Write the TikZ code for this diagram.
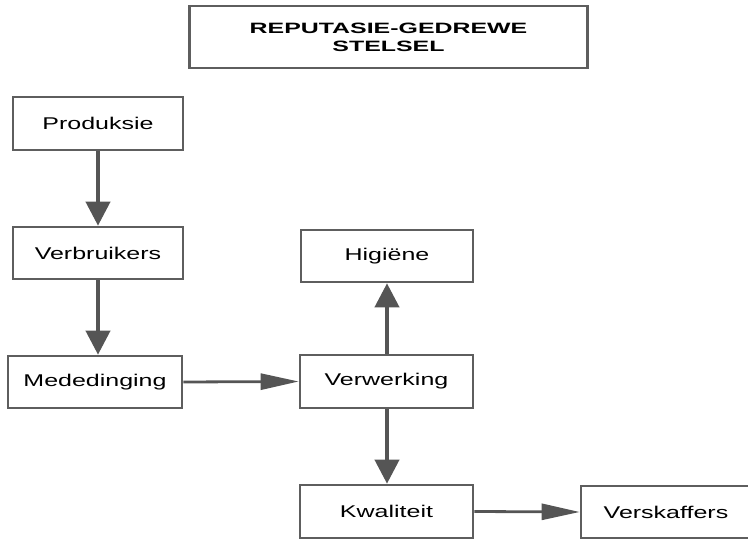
\documentclass[tikz,border=0pt]{standalone}
\usepackage{fontspec}
\setmainfont{Liberation Sans}
\usepackage{graphicx}
\usetikzlibrary{arrows.meta}
\definecolor{edge}{HTML}{5E5E5E}
\definecolor{link}{HTML}{555555}
\newcommand{\widetext}[2]{\scalebox{#1}[1]{#2}}
\begin{document}
\begin{tikzpicture}[x=1pt,y=-1pt,
  stagebox/.style={draw=edge, line width=2.6pt, fill=white, inner sep=0pt,
    font=\fontsize{17}{20}\selectfont},
  vlink/.style={draw=link, line width=4pt,
    -{Triangle[length=24pt,width=24pt]}},
  hlink/.style={draw=link, line width=2.8pt,
    -{Triangle[length=38pt,width=16pt]}}]
\useasboundingbox (0,0) rectangle (748,540);
% title
\node[draw=edge, line width=2.6pt, inner sep=0pt, minimum width=398pt, minimum height=62pt,
  align=center, font=\bfseries\fontsize{15}{18}\selectfont] (title) at (388.5,37)
  {\widetext{1.66}{REPUTASIE-GEDREWE}\\\widetext{1.66}{STELSEL}};
% stages
\node[stagebox, minimum width=170pt, minimum height=53pt] (prod) at (98,123.5) {\widetext{1.47}{Produksie}};
\node[stagebox, minimum width=170pt, minimum height=52pt] (verb) at (98,253) {\widetext{1.47}{Verbruikers}};
\node[stagebox, minimum width=174pt, minimum height=52pt] (med) at (95,382) {\widetext{1.47}{Mededinging}};
\node[stagebox, minimum width=172pt, minimum height=52pt] (hig) at (387,256) {\widetext{1.47}{Higiëne}};
\node[stagebox, minimum width=173pt, minimum height=53pt] (verw) at (386.5,381.5) {\widetext{1.47}{Verwerking}};
\node[stagebox, minimum width=173pt, minimum height=53pt] (kwal) at (386.5,511.5) {\widetext{1.47}{Kwaliteit}};
% this box runs on past the right edge of the page
\node[stagebox, minimum width=184pt, minimum height=52pt] (versk) at (673,512) {\widetext{1.47}{Verskaffers}\hspace*{14pt}};
% links
\draw[vlink] (prod) -- (verb);
\draw[vlink] (verb) -- (verb |- med.north);
\draw[hlink] (med.east) -- (verw.west);
\draw[vlink] (verw.north -| hig) -- (hig);
\draw[vlink] (verw.south -| hig) -- (kwal.north -| hig);
\draw[hlink] (kwal.east) -- (versk.west);
\end{tikzpicture}
\end{document}
